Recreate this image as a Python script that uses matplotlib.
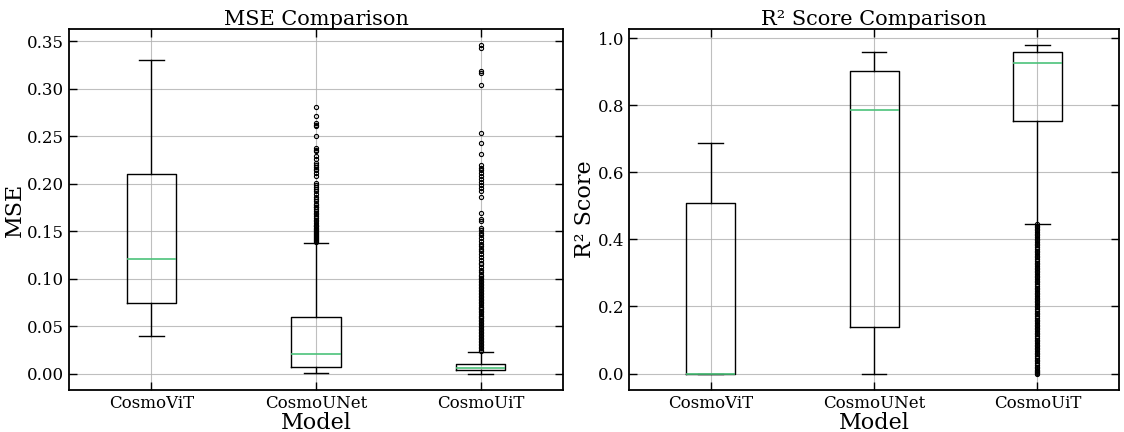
import matplotlib
matplotlib.use("Agg")
import matplotlib.pyplot as plt

plt.rcParams["font.family"] = "DejaVu Serif"

models = ["CosmoViT", "CosmoUNet", "CosmoUiT"]

# MSE summary per model: lower whisker, Q1, median, Q3, upper whisker
mse_whislo = [0.040, 0.0005, 0.0002]
mse_q1 = [0.075, 0.0074, 0.0035]
mse_med = [0.1205, 0.0205, 0.0059]
mse_q3 = [0.2105, 0.0596, 0.0108]
mse_whishi = [0.330, 0.138, 0.0231]

mse_fliers_vit = []
mse_fliers_unet = [0.281, 0.271, 0.264, 0.262, 0.261, 0.250, 0.238, 0.236, 0.234,
                   0.229, 0.226, 0.222, 0.220, 0.218, 0.216, 0.214, 0.211, 0.208,
                   0.201, 0.199, 0.197, 0.194, 0.192, 0.189, 0.186, 0.184, 0.182,
                   0.179, 0.178, 0.176, 0.175, 0.173, 0.171, 0.169, 0.168, 0.166,
                   0.164, 0.162, 0.161, 0.159, 0.157, 0.156, 0.155, 0.153, 0.152,
                   0.151, 0.150, 0.149, 0.148, 0.147, 0.146, 0.145, 0.144, 0.143,
                   0.142, 0.141, 0.140, 0.139]
mse_fliers_uit = [0.3455, 0.343, 0.3184, 0.316, 0.3037, 0.2536, 0.243, 0.2308,
                  0.2195, 0.217, 0.214, 0.211, 0.208, 0.205, 0.202, 0.199, 0.196,
                  0.192, 0.186, 0.1694, 0.1625, 0.1610, 0.1536, 0.151, 0.148,
                  0.146, 0.143, 0.140, 0.137, 0.134, 0.131, 0.129, 0.126, 0.123,
                  0.120, 0.117, 0.115, 0.112, 0.109, 0.107, 0.104,
                  0.1027, 0.101, 0.0995, 0.098, 0.0963, 0.0948, 0.093, 0.0915,
                  0.0898, 0.0884, 0.0867, 0.0851, 0.0836, 0.0819, 0.0804, 0.0787,
                  0.0772, 0.0756, 0.0741, 0.0723, 0.0708, 0.0692, 0.0677, 0.066,
                  0.0645, 0.0629, 0.0613, 0.0598, 0.0582, 0.0566, 0.0551, 0.0535,
                  0.0519, 0.0503, 0.0488, 0.0472, 0.0457, 0.0441, 0.0425, 0.041,
                  0.0394, 0.0378, 0.0363, 0.0347, 0.0331, 0.0316, 0.03, 0.0284,
                  0.0268, 0.0253, 0.0238]

# R2 summary per model
r2_whislo = [0.0, 0.0, 0.446]
r2_q1 = [0.0, 0.138, 0.754]
r2_med = [0.0, 0.787, 0.927]
r2_q3 = [0.508, 0.903, 0.958]
r2_whishi = [0.688, 0.959, 0.978]

r2_fliers_vit = []
r2_fliers_unet = []
r2_fliers_uit = [0.445, 0.440, 0.436, 0.431, 0.427, 0.421, 0.416, 0.412, 0.406,
                 0.401, 0.397, 0.391, 0.386, 0.382, 0.377, 0.371, 0.366, 0.362,
                 0.356, 0.351, 0.347, 0.342, 0.336, 0.331, 0.327, 0.322, 0.316,
                 0.311, 0.307, 0.302, 0.296, 0.291, 0.287, 0.281, 0.276, 0.272,
                 0.267, 0.261, 0.256, 0.252, 0.247, 0.241, 0.236, 0.232, 0.226,
                 0.221, 0.217, 0.212, 0.206, 0.201, 0.197, 0.192, 0.186, 0.181,
                 0.177, 0.172, 0.166, 0.161, 0.157, 0.152, 0.146, 0.141, 0.137,
                 0.132, 0.126, 0.121, 0.117, 0.112, 0.106, 0.101, 0.097, 0.092,
                 0.086, 0.081, 0.077, 0.072, 0.066, 0.061, 0.057, 0.052, 0.046,
                 0.041, 0.037, 0.032, 0.026, 0.021, 0.017, 0.012, 0.008, 0.004,
                 0.001, 0.0]


def make_stats(whislo, q1, med, q3, whishi, fliers):
    out = []
    for i in range(len(med)):
        out.append(dict(whislo=whislo[i], q1=q1[i], med=med[i], q3=q3[i],
                        whishi=whishi[i], fliers=fliers[i], label=models[i]))
    return out


mse_stats = make_stats(mse_whislo, mse_q1, mse_med, mse_q3, mse_whishi,
                       [mse_fliers_vit, mse_fliers_unet, mse_fliers_uit])
r2_stats = make_stats(r2_whislo, r2_q1, r2_med, r2_q3, r2_whishi,
                      [r2_fliers_vit, r2_fliers_unet, r2_fliers_uit])

fig = plt.figure(figsize=(11.24, 4.32), dpi=100)
ax1 = fig.add_axes([0.0614, 0.0972, 0.4395, 0.8356])
ax2 = fig.add_axes([0.5596, 0.0972, 0.4360, 0.8356])

median_color = "#4cc27a"
for ax, st, title, ylabel in [(ax1, mse_stats, "MSE Comparison", "MSE"),
                              (ax2, r2_stats, "R² Score Comparison", "R² Score")]:
    ax.bxp(st, widths=0.3,
           boxprops=dict(color="black", linewidth=1.0),
           whiskerprops=dict(color="black", linewidth=1.0),
           capprops=dict(color="black", linewidth=1.0),
           medianprops=dict(color=median_color, linewidth=1.2),
           flierprops=dict(marker="o", markersize=3.0, markerfacecolor="none",
                           markeredgecolor="black", markeredgewidth=0.8))
    ax.set_xlim(0.5, 3.5)
    ax.set_title(title, fontsize=15, pad=3)
    ax.set_xlabel("Model", fontsize=16, labelpad=0)
    ax.set_ylabel(ylabel, fontsize=16, labelpad=1)
    ax.grid(True, color="#b0b0b0", linewidth=0.8, alpha=0.8)
    ax.tick_params(direction="in", length=6, width=1.0, labelsize=12,
                   top=True, right=True)
    for s in ax.spines.values():
        s.set_linewidth(1.3)

ax1.set_yticks([0.0, 0.05, 0.10, 0.15, 0.20, 0.25, 0.30, 0.35])
ax1.set_yticklabels(["0.00", "0.05", "0.10", "0.15", "0.20", "0.25", "0.30", "0.35"])
ax2.set_yticks([0.0, 0.2, 0.4, 0.6, 0.8, 1.0])

fig.savefig("out.png", dpi=100)
